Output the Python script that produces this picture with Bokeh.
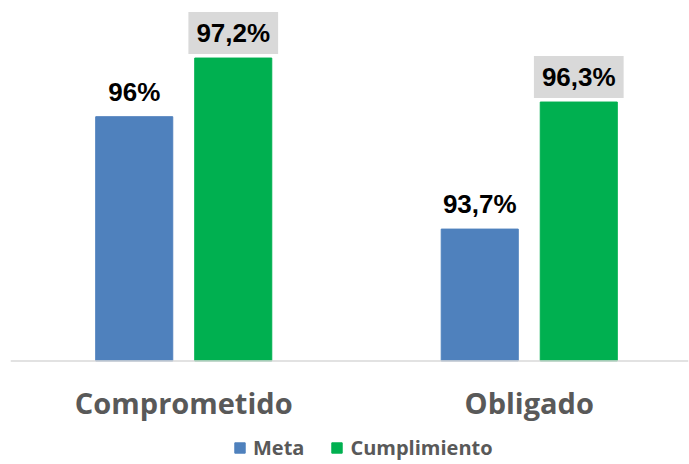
from bokeh.plotting import figure
from bokeh.models import (ColumnDataSource, Legend, LegendItem, Range1d, Span)
from bokeh.transform import dodge
from bokeh.core.properties import value
from bokeh.embed import file_html
from bokeh.resources import INLINE

categories = ["Comprometido", "Obligado"]
series = ["Meta", "Cumplimiento"]
meta = [96.0, 93.7]
cumplimiento = [97.2, 96.3]
axis_min = 91.0

def fmt(v):
    return f"{v:g}".replace(".", ",") + "%"

idx = list(range(len(categories)))
src = ColumnDataSource(dict(
    x=idx,
    cat=categories,
    base=[axis_min] * len(idx),
    meta=meta,
    cump=cumplimiento,
    meta_lbl=[fmt(v) for v in meta],
    cump_lbl=[fmt(v) for v in cumplimiento],
))

BLUE = "#4F81BD"
GREEN = "#00B050"
OFF = 0.1433
BW = 0.223

p = figure(width=689, height=464, output_backend="svg", toolbar_location=None,
           x_range=Range1d(-0.5014, 1.4609), y_range=Range1d(88.882, 98.378),
           min_border_left=10, min_border_right=1,
           min_border_top=0, min_border_bottom=0)
p.outline_line_color = None
p.xgrid.visible = False
p.ygrid.visible = False
p.xaxis.visible = False
p.yaxis.visible = False

r_meta = p.vbar(x=dodge("x", -OFF), top="meta", bottom="base", width=BW, source=src,
                fill_color=BLUE, line_color=BLUE)
r_cump = p.vbar(x=dodge("x", OFF), top="cump", bottom="base", width=BW, source=src,
                fill_color=GREEN, line_color=GREEN)

p.add_layout(Span(location=axis_min, dimension="width",
                  line_color="#D9D9D9", line_width=1.5))

p.text(x=dodge("x", -OFF), y="meta", text="meta_lbl", source=src,
       text_align="center", text_baseline="alphabetic", y_offset=-25,
       text_font=value("Liberation Sans"), text_font_style="bold",
       text_font_size="26px", text_color="black")
p.text(x=dodge("x", OFF), y="cump", text="cump_lbl", source=src,
       text_align="center", text_baseline="alphabetic", y_offset=-25,
       text_font=value("Liberation Sans"), text_font_style="bold",
       text_font_size="26px", text_color="black",
       background_fill_color="#D9D9D9",
       padding=dict(left=8, right=8, top=6, bottom=6))

p.text(x="x", y="base", text="cat", source=src,
       text_align="center", text_baseline="top", y_offset=22,
       text_font=value("Open Sans"), text_font_style="bold",
       text_font_size="29px", text_color="#595959")

legend = Legend(items=[LegendItem(label=series[0], renderers=[r_meta]),
                       LegendItem(label=series[1], renderers=[r_cump])],
                orientation="horizontal", location=(223, 3),
                label_text_font="Open Sans", label_text_font_style="bold",
                label_text_font_size="20px", label_text_color="#595959",
                glyph_width=13, glyph_height=13, label_standoff=7, spacing=26,
                padding=0, margin=0, border_line_color=None,
                background_fill_alpha=0)
p.add_layout(legend)

open("out.html", "w").write(file_html(p, INLINE))
